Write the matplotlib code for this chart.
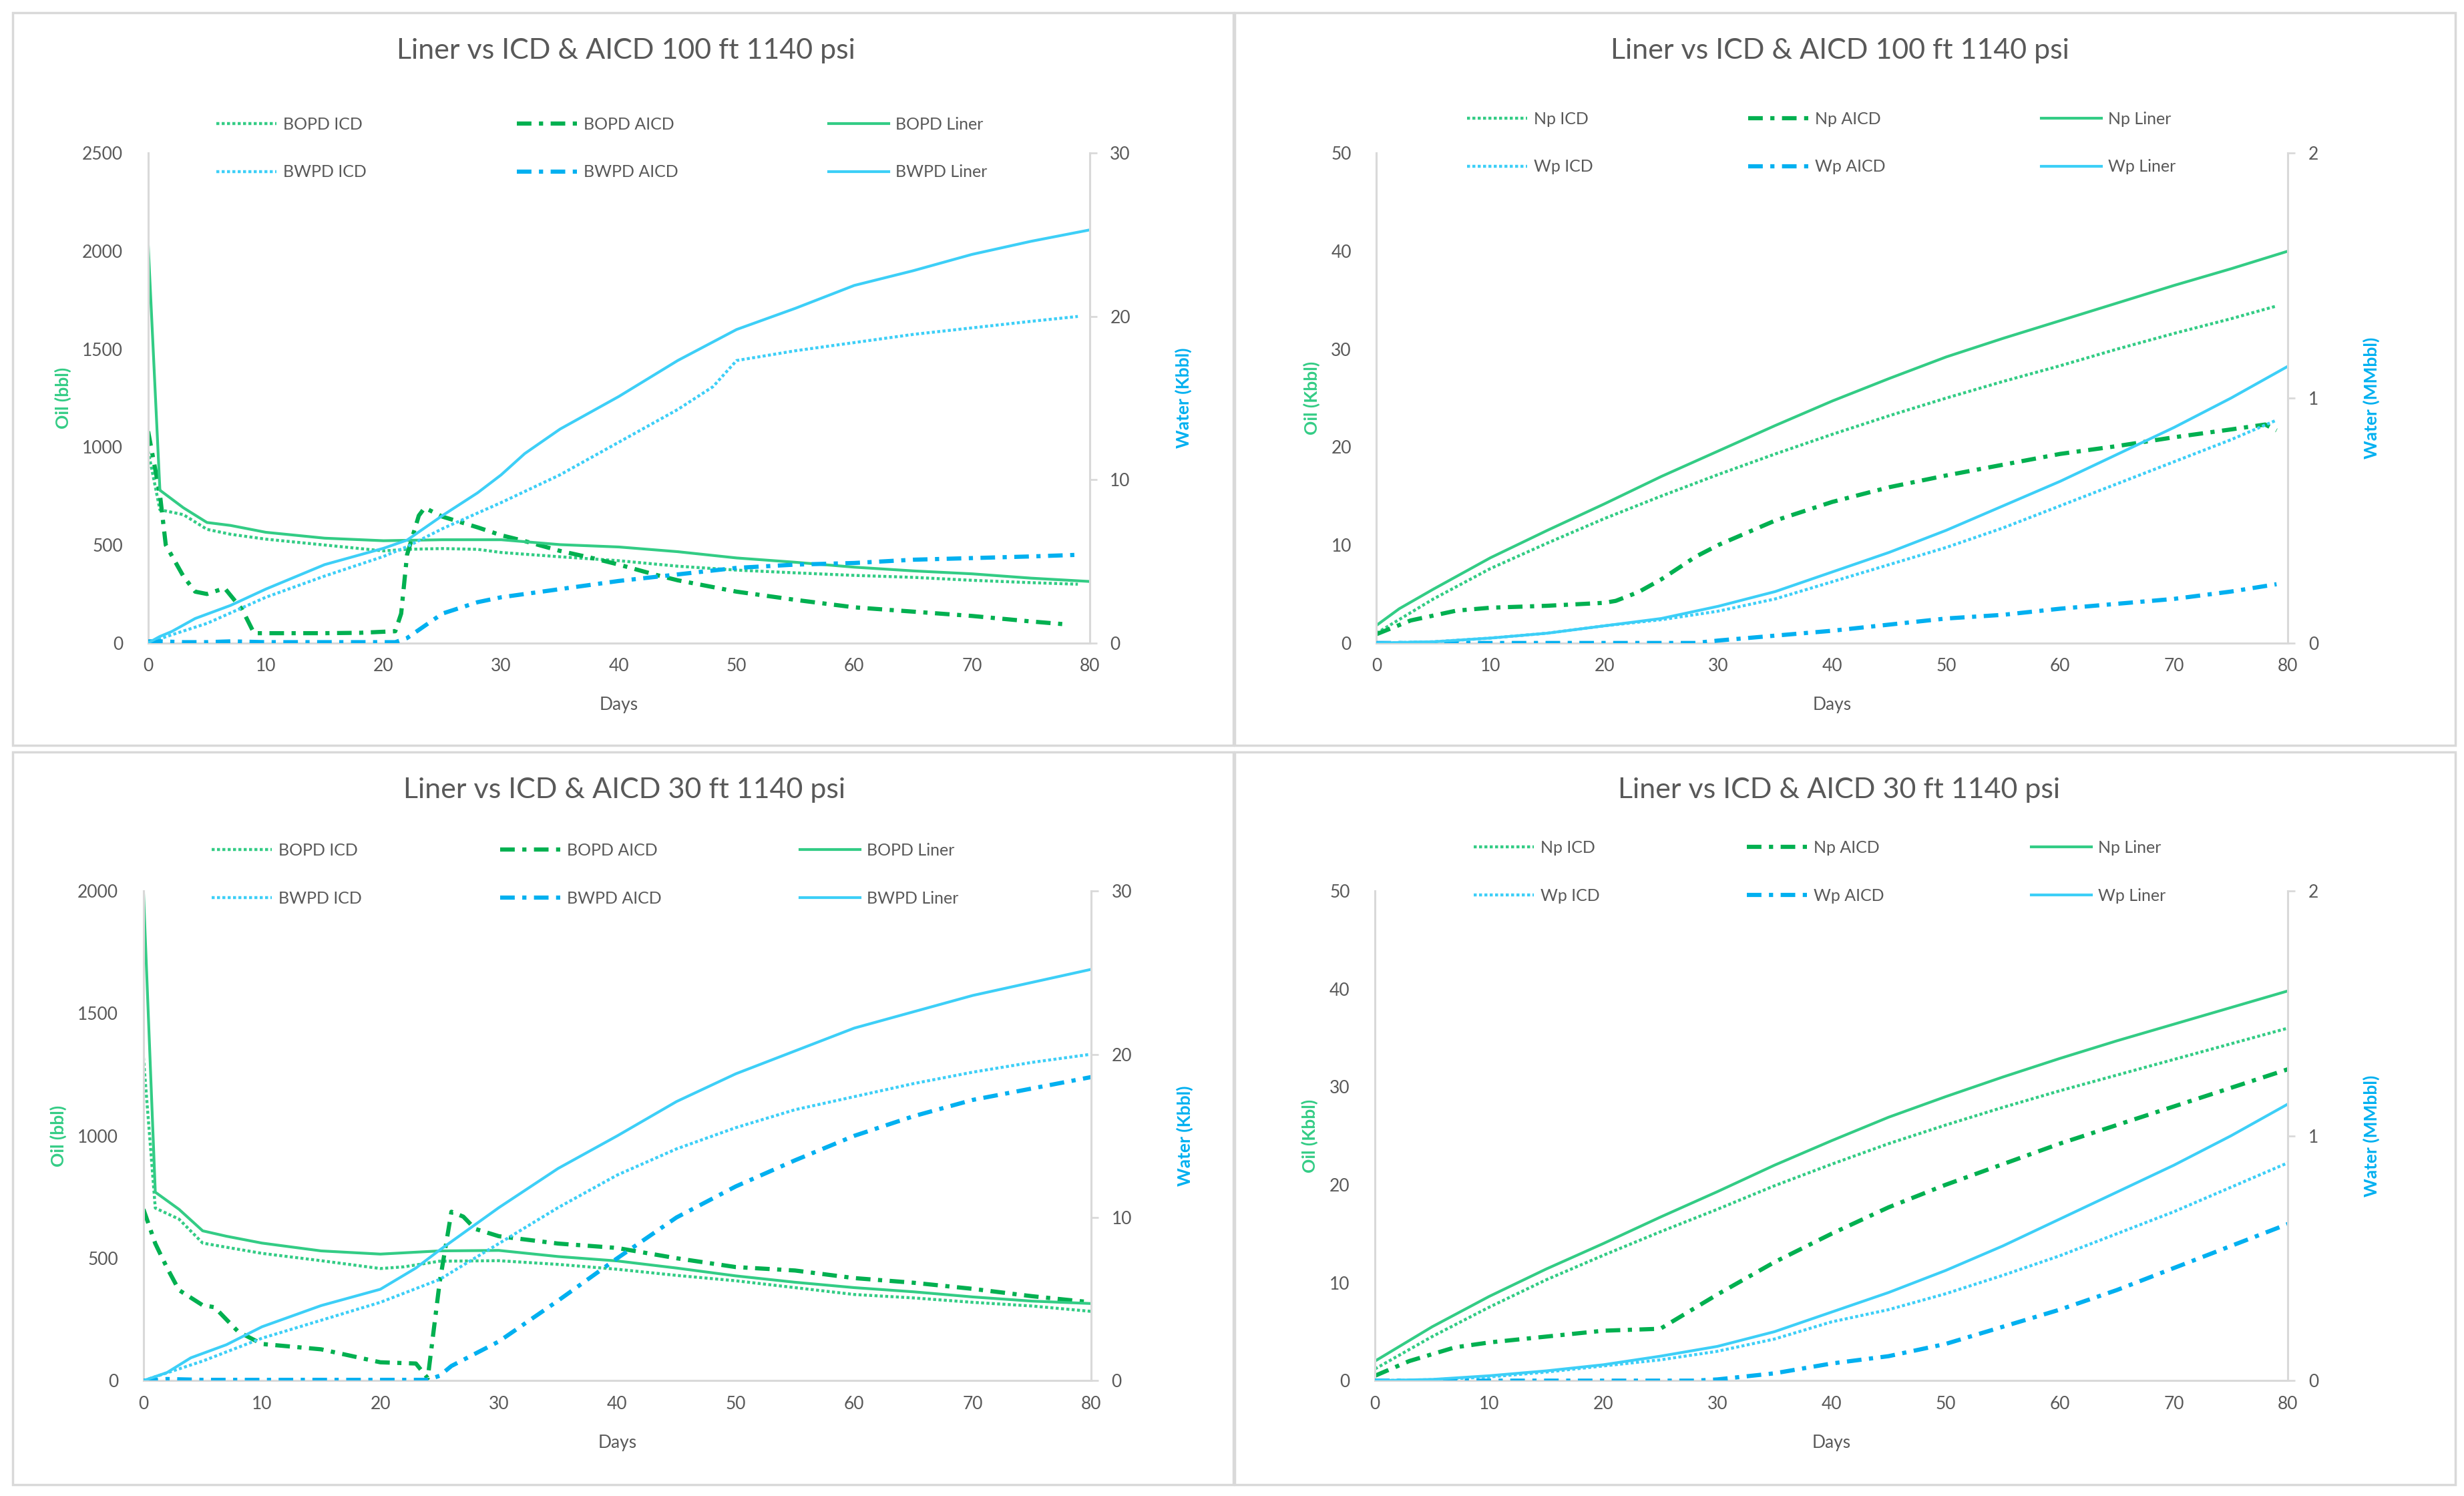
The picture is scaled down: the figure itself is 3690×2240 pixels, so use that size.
import matplotlib
matplotlib.use("Agg")
import matplotlib.pyplot as plt
from matplotlib.patches import Rectangle

plt.rcParams['font.family'] = ['Lato', 'DejaVu Sans']

OIL = '#33CC85'
OIL_AICD = '#00B050'
WAT = '#3DCFF7'
WAT_AICD = '#00B0F0'
GREY_TXT = '#595959'

# ---- 100 ft, rates ----
tl_d_oil_liner = [0, 1, 3, 5, 7, 10, 15, 20, 25, 30, 35, 40, 45, 50, 55, 60, 65, 70, 75, 80]
tl_oil_liner = [2040, 780, 690, 615, 600, 565, 535, 522, 527, 527, 502, 490, 466, 434, 412, 387, 368, 353, 331, 314]
tl_d_oil_icd = [0, 1, 3, 5, 7, 10, 15, 20, 22, 25, 28, 30, 35, 40, 45, 50, 55, 60, 65, 70, 75, 79]
tl_oil_icd = [980, 680, 655, 580, 555, 530, 500, 470, 478, 482, 478, 462, 440, 420, 392, 372, 358, 345, 335, 320, 308, 300]
tl_d_oil_aicd = [0, 1, 1.5, 3, 4, 5, 6.5, 8, 9, 12, 15, 18, 21, 21.5, 22, 23, 23.5, 25, 28, 30, 32, 35,
                 38, 40, 43, 45, 50, 55, 60, 65, 70, 75, 78]
tl_oil_aicd = [1080, 760, 500, 340, 262, 250, 280, 170, 50, 50, 50, 52, 60, 150, 450, 650, 690, 645, 590, 550, 520, 470,
               430, 400, 350, 320, 262, 220, 182, 160, 138, 110, 95]
tl_d_wat_liner = [0, 1, 2, 4, 7, 10, 15, 20, 22, 25, 28, 30, 32, 35, 40, 45, 50, 55, 60, 65, 70, 75, 80]
tl_wat_liner = [0, 0.4, 0.7, 1.5, 2.3, 3.3, 4.8, 5.8, 6.3, 7.8, 9.2, 10.3, 11.6, 13.1, 15.1, 17.3, 19.2, 20.5, 21.9, 22.8, 23.8, 24.6, 25.3]
tl_d_wat_icd = [0, 2, 5, 10, 15, 20, 22, 25, 30, 35, 40, 45, 48, 50, 55, 60, 65, 70, 75, 79]
tl_wat_icd = [0, 0.5, 1.2, 2.8, 4.1, 5.3, 5.9, 7.0, 8.6, 10.3, 12.3, 14.3, 15.7, 17.3, 17.9, 18.4, 18.9, 19.3, 19.7, 20.0]
tl_d_wat_aicd = [0, 1, 3, 5, 7, 10, 15, 20, 21, 22, 25, 28, 30, 35, 40, 45, 50, 55, 60, 65, 70, 75, 79]
tl_wat_aicd = [0.1, 0.1, 0.05, 0.05, 0.1, 0.05, 0.05, 0.05, 0.05, 0.3, 1.8, 2.5, 2.8, 3.3, 3.8, 4.2, 4.6, 4.8, 4.9, 5.1, 5.2, 5.3, 5.4]

# ---- 100 ft, cumulative ----
tr_d_np_liner = [0, 2, 5, 10, 15, 20, 25, 30, 35, 40, 45, 50, 55, 60, 65, 70, 75, 80]
tr_np_liner = [1.8, 3.5, 5.5, 8.7, 11.5, 14.2, 17.0, 19.6, 22.2, 24.7, 27.0, 29.2, 31.1, 32.9, 34.7, 36.5, 38.2, 40.0]
tr_d_np_icd = [0, 2, 5, 10, 15, 20, 25, 30, 35, 40, 45, 50, 55, 60, 65, 70, 75, 79]
tr_np_icd = [1.0, 2.4, 4.5, 7.6, 10.2, 12.7, 15.0, 17.2, 19.3, 21.3, 23.2, 25.0, 26.7, 28.3, 30.0, 31.6, 33.1, 34.4]
tr_d_np_aicd = [0, 3, 7, 10, 15, 20, 21, 23, 25, 28, 30, 35, 40, 45, 50, 55, 60, 65, 70, 75, 78, 79]
tr_np_aicd = [0.9, 2.3, 3.3, 3.6, 3.8, 4.1, 4.3, 5.2, 6.5, 8.8, 10.0, 12.5, 14.4, 15.9, 17.1, 18.2, 19.3, 20.1, 21.0, 21.8, 22.3, 21.7]
tr_d_wp_liner = [0, 5, 10, 15, 20, 25, 30, 35, 40, 45, 50, 55, 60, 65, 70, 75, 80]
tr_wp_liner = [0, 0.005, 0.02, 0.04, 0.07, 0.1, 0.15, 0.21, 0.29, 0.37, 0.46, 0.56, 0.66, 0.77, 0.88, 1.0, 1.13]
tr_d_wp_icd = [0, 5, 10, 15, 20, 25, 30, 35, 40, 45, 50, 55, 60, 65, 70, 75, 79]
tr_wp_icd = [0, 0.005, 0.02, 0.04, 0.07, 0.095, 0.13, 0.18, 0.25, 0.32, 0.39, 0.47, 0.56, 0.65, 0.74, 0.83, 0.91]
tr_d_wp_aicd = [0, 10, 20, 28, 30, 35, 40, 45, 50, 55, 60, 65, 70, 75, 79]
tr_wp_aicd = [0, 0, 0, 0, 0.01, 0.03, 0.05, 0.075, 0.1, 0.115, 0.14, 0.16, 0.18, 0.21, 0.24]

# ---- 30 ft, rates ----
bl_d_oil_liner = [0, 1, 3, 5, 7, 10, 15, 20, 25, 30, 35, 40, 45, 50, 55, 60, 65, 70, 75, 80]
bl_oil_liner = [2000, 770, 700, 612, 590, 562, 530, 517, 530, 532, 507, 489, 460, 428, 402, 380, 363, 342, 325, 315]
bl_d_oil_icd = [0, 1, 3, 5, 7, 10, 15, 20, 22, 25, 30, 35, 40, 45, 50, 55, 60, 65, 70, 75, 80]
bl_oil_icd = [1320, 705, 660, 562, 545, 520, 490, 458, 465, 488, 490, 475, 455, 430, 408, 380, 352, 338, 320, 305, 283]
bl_d_oil_aicd = [0, 1, 2, 3, 5, 6, 8, 10, 15, 20, 23, 24, 25, 26, 27, 28, 30, 35, 40, 45, 50, 55, 60, 65, 70, 75, 80]
bl_oil_aicd = [700, 560, 460, 370, 308, 300, 200, 150, 128, 75, 70, 10, 400, 690, 670, 620, 590, 560, 542, 500, 464,
               450, 419, 400, 375, 345, 320]
bl_d_wat_liner = [0, 2, 4, 7, 10, 15, 20, 23, 25, 30, 35, 40, 45, 50, 55, 60, 65, 70, 75, 80]
bl_wat_liner = [0, 0.5, 1.4, 2.2, 3.3, 4.6, 5.6, 6.9, 8.0, 10.6, 13.0, 15.0, 17.1, 18.8, 20.2, 21.6, 22.6, 23.6, 24.4, 25.2]
bl_d_wat_icd = [0, 5, 10, 15, 20, 25, 30, 35, 40, 45, 50, 55, 60, 65, 70, 75, 80]
bl_wat_icd = [0, 1.2, 2.6, 3.7, 4.8, 6.2, 8.4, 10.6, 12.6, 14.2, 15.5, 16.6, 17.4, 18.2, 18.9, 19.5, 20.0]
bl_d_wat_aicd = [0, 2, 5, 10, 15, 20, 24, 25, 26, 30, 35, 40, 45, 50, 55, 60, 65, 70, 75, 80]
bl_wat_aicd = [0, 0.1, 0.05, 0.05, 0.05, 0.05, 0.05, 0.3, 0.9, 2.4, 4.9, 7.5, 10.0, 11.9, 13.5, 15.0, 16.2, 17.2, 17.9, 18.6]

# ---- 30 ft, cumulative ----
br_days = [0, 5, 10, 15, 20, 25, 30, 35, 40, 45, 50, 55, 60, 65, 70, 75, 80]
br_np_liner = [2.0, 5.5, 8.6, 11.4, 14.0, 16.7, 19.3, 22.0, 24.5, 26.9, 29.0, 31.0, 32.9, 34.7, 36.4, 38.1, 39.8]
br_np_icd = [1.2, 4.5, 7.5, 10.3, 12.8, 15.2, 17.5, 19.9, 22.1, 24.2, 26.1, 27.9, 29.6, 31.2, 32.8, 34.4, 36.0]
br_d_np_aicd = [0, 3, 7, 10, 15, 20, 25, 30, 35, 40, 45, 50, 55, 60, 65, 70, 75, 80]
br_np_aicd = [0.5, 2.0, 3.4, 3.9, 4.5, 5.1, 5.3, 8.8, 12.1, 15.0, 17.7, 20.0, 22.1, 24.2, 26.1, 28.0, 29.9, 31.8]
br_wp_liner = [0, 0.005, 0.02, 0.04, 0.065, 0.1, 0.14, 0.2, 0.28, 0.36, 0.45, 0.55, 0.66, 0.77, 0.88, 1.0, 1.13]
br_wp_icd = [0, 0.004, 0.015, 0.035, 0.06, 0.085, 0.12, 0.17, 0.24, 0.29, 0.355, 0.43, 0.51, 0.6, 0.69, 0.79, 0.89]
br_d_wp_aicd = [0, 10, 20, 28, 30, 35, 40, 45, 50, 55, 60, 65, 70, 75, 80]
br_wp_aicd = [0, 0, 0, 0, 0.005, 0.03, 0.07, 0.1, 0.15, 0.22, 0.29, 0.37, 0.46, 0.55, 0.64]

DOT = (0, (1, 0.8))
DASHDOT = (0, (3.5, 1.8, 1, 1.8))

fig = plt.figure(figsize=(36.91, 22.40), dpi=100)

# panel frames
for (x0, y0) in [(0.0051, 0.5016), (0.501, 0.5016), (0.0051, 0.0074), (0.501, 0.0074)]:
    fig.patches.append(Rectangle((x0, y0), 0.4952, 0.49, transform=fig.transFigure,
                                 fill=False, edgecolor='#D9D9D9', lw=2.5))


def panel(rect, title, title_y, oil, wat, names, oil_lim, oil_step, wat_lim, wat_step,
          oil_label, wat_label, legend_xy, colsp):
    ax = fig.add_axes(rect)
    ax2 = ax.twinx()
    (d_icd, v_icd), (d_aicd, v_aicd), (d_lin, v_lin) = oil
    (w_icd_d, w_icd), (w_aicd_d, w_aicd), (w_lin_d, w_lin) = wat
    h1, = ax.plot(d_icd, v_icd, color=OIL, lw=3.2, ls=DOT)
    h2, = ax.plot(d_aicd, v_aicd, color=OIL_AICD, lw=4.5, ls=DASHDOT)
    h3, = ax.plot(d_lin, v_lin, color=OIL, lw=3.0)
    h4, = ax2.plot(w_icd_d, w_icd, color=WAT, lw=3.2, ls=DOT)
    h5, = ax2.plot(w_aicd_d, w_aicd, color=WAT_AICD, lw=4.5, ls=DASHDOT)
    h6, = ax2.plot(w_lin_d, w_lin, color=WAT, lw=3.0)

    ax.set_xlim(0, 80)
    ax.set_ylim(0, oil_lim)
    ax2.set_ylim(0, wat_lim)
    ax.set_xticks(range(0, 81, 10))
    ax.set_yticks([oil_step * i for i in range(int(oil_lim / oil_step) + 1)])
    ax2.set_yticks([wat_step * i for i in range(int(wat_lim / wat_step) + 1)])
    for a in (ax, ax2):
        a.spines['top'].set_visible(False)
        for s in ('left', 'right', 'bottom'):
            a.spines[s].set_color('#D9D9D9')
            a.spines[s].set_linewidth(2.2)
        a.tick_params(labelsize=19, colors=GREY_TXT, length=0, pad=16)
    ax.tick_params(axis='y', pad=27)
    ax.spines['right'].set_visible(False)
    ax2.spines['left'].set_visible(False)
    ax2.spines['bottom'].set_visible(False)
    ax2.tick_params(axis='y', length=8, width=2, color='#D9D9D9', pad=14)
    ax.set_xlabel('Days', fontsize=19, color=GREY_TXT, labelpad=24)
    ax.set_ylabel(oil_label, fontsize=19, color=OIL, fontweight='bold', labelpad=12)
    ax2.set_ylabel(wat_label, fontsize=19, color=WAT_AICD, fontweight='bold', labelpad=48)

    fig.text(rect[0] + rect[2] / 2 + 0.003, title_y, title, ha='center', va='center',
             fontsize=31, color=GREY_TXT)

    handles = [h1, h4, h2, h5, h3, h6]
    labels = [names[0], names[3], names[1], names[4], names[2], names[5]]
    ax.legend(handles, labels, ncol=3, loc='center', bbox_to_anchor=legend_xy,
              frameon=False, fontsize=18, labelcolor=GREY_TXT, handlelength=3.6,
              handletextpad=0.4, columnspacing=colsp, labelspacing=1.95)
    return ax


rate_names = ['BOPD ICD', 'BOPD AICD', 'BOPD Liner', 'BWPD ICD', 'BWPD AICD', 'BWPD Liner']
cum_names = ['Np ICD', 'Np AICD', 'Np Liner', 'Wp ICD', 'Wp AICD', 'Wp Liner']

panel([0.0601, 0.5702, 0.382, 0.3274], 'Liner vs ICD & AICD 100 ft 1140 psi', 0.966,
      [(tl_d_oil_icd, tl_oil_icd), (tl_d_oil_aicd, tl_oil_aicd), (tl_d_oil_liner, tl_oil_liner)],
      [(tl_d_wat_icd, tl_wat_icd), (tl_d_wat_aicd, tl_wat_aicd), (tl_d_wat_liner, tl_wat_liner)],
      rate_names, 2500, 500, 30, 10, 'Oil (bbl)', 'Water (Kbbl)', (0.482, 1.01), 9.0)

panel([0.5585, 0.5702, 0.3698, 0.3274], 'Liner vs ICD & AICD 100 ft 1140 psi', 0.966,
      [(tr_d_np_icd, tr_np_icd), (tr_d_np_aicd, tr_np_aicd), (tr_d_np_liner, tr_np_liner)],
      [(tr_d_wp_icd, tr_wp_icd), (tr_d_wp_aicd, tr_wp_aicd), (tr_d_wp_liner, tr_wp_liner)],
      cum_names, 50, 10, 2, 1, 'Oil (Kbbl)', 'Water (MMbbl)', (0.488, 1.021), 9.3)

panel([0.0582, 0.0771, 0.3845, 0.3273], 'Liner vs ICD & AICD 30 ft 1140 psi', 0.472,
      [(bl_d_oil_icd, bl_oil_icd), (bl_d_oil_aicd, bl_oil_aicd), (bl_d_oil_liner, bl_oil_liner)],
      [(bl_d_wat_icd, bl_wat_icd), (bl_d_wat_aicd, bl_wat_aicd), (bl_d_wat_liner, bl_wat_liner)],
      rate_names, 2000, 500, 30, 10, 'Oil (bbl)', 'Water (Kbbl)', (0.466, 1.034), 8.3)

panel([0.5579, 0.0771, 0.3704, 0.3273], 'Liner vs ICD & AICD 30 ft 1140 psi', 0.472,
      [(br_days, br_np_icd), (br_d_np_aicd, br_np_aicd), (br_days, br_np_liner)],
      [(br_days, br_wp_icd), (br_d_wp_aicd, br_wp_aicd), (br_days, br_wp_liner)],
      cum_names, 50, 10, 2, 1, 'Oil (Kbbl)', 'Water (MMbbl)', (0.487, 1.039), 8.8)

fig.savefig('out.png', dpi=100, facecolor='white')
